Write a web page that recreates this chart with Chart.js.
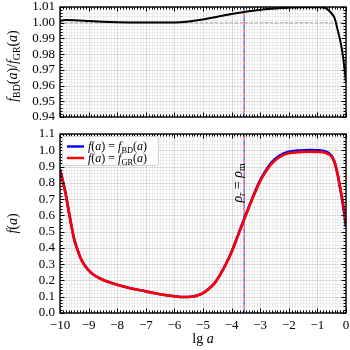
<!DOCTYPE html>
<html><head><meta charset="utf-8">
<script src="https://cdn.jsdelivr.net/npm/chart.js@4.4.0/dist/chart.umd.min.js"></script>
<style>
html,body{margin:0;padding:0;background:#fff;}
#wrap{position:relative;width:350px;height:350px;overflow:hidden;}
canvas{position:absolute;left:0;}
#c1{top:0;} #c2{top:125px;}
</style></head><body>
<div id="wrap"><canvas id="c1" width="350" height="125"></canvas><canvas id="c2" width="350" height="225"></canvas></div>
<script>
// ---- data ----
const X_LGA = [-10,-9.9,-9.8,-9.7,-9.6,-9.5,-9.4,-9.3,-9.2,-9.0,-8.8,-8.6,-8.3,-8.0,-7.5,-7.0,-6.5,-6.0,-5.7,-5.4,-5.2,-5.0,-4.8,-4.6,-4.4,-4.2,-4.0,-3.8,-3.56,-3.3,-3.0,-2.7,-2.5,-2.2,-2.0,-1.7,-1.5,-1.2,-1.0,-0.8,-0.6,-0.5,-0.4,-0.3,-0.2,-0.1,0];
const F_GR = [0.88,0.81,0.73,0.63,0.535,0.45,0.395,0.345,0.31,0.262,0.232,0.212,0.19,0.173,0.15,0.133,0.115,0.103,0.098,0.1,0.108,0.122,0.148,0.182,0.235,0.30,0.375,0.465,0.575,0.69,0.81,0.895,0.935,0.97,0.982,0.988,0.99,0.991,0.99,0.988,0.975,0.96,0.925,0.86,0.77,0.67,0.55];
const F_BD = [0.881,0.811,0.731,0.631,0.536,0.451,0.3955,0.3454,0.3103,0.2622,0.2322,0.2121,0.1901,0.1731,0.15,0.133,0.115,0.103,0.0981,0.1001,0.1082,0.1223,0.1484,0.1827,0.2359,0.3013,0.3771,0.4678,0.5789,0.6951,0.8166,0.903,0.9435,0.9792,0.9914,0.9976,0.9997,1.0008,0.9998,0.9976,0.9826,0.9656,0.9278,0.8566,0.7611,0.6553,0.5291];
const RATIO_LGA = [-10,-9.8,-9.5,-9,-8.5,-8,-7,-6,-5.5,-5,-4.5,-4,-3.56,-3,-2.5,-2,-1.5,-1,-0.8,-0.7,-0.6,-0.5,-0.4,-0.3,-0.2,-0.1,0];
const RATIO = [1.0013,1.0017,1.0016,1.0011,1.0006,1.0003,1.0001,1.0002,1.0008,1.002,1.0038,1.0055,1.0068,1.0082,1.0091,1.0096,1.0098,1.0099,1.0097,1.0092,1.0078,1.0058,1.003,0.996,0.9885,0.978,0.962];
const EQ_LGA = -3.56;          // rho_r = rho_m
const X_RANGE = [-10, 0];
const TOP_Y_RANGE = [0.94, 1.01];
const BOT_Y_RANGE = [0, 1.1];
const REF_LINE = 1.0;

const FONT = '"Liberation Serif", "DejaVu Serif", serif';
Chart.defaults.font.family = FONT;
Chart.defaults.font.size = 13;
Chart.defaults.color = '#000';

const pts = (xs, ys) => xs.map((x, i) => ({x, y: ys[i]}));

function fontFor(s, size){ const sz = s.sub ? size*0.7 : size; return (s.it ? 'italic ' : '') + sz + 'px ' + FONT; }
function richWidth(ctx, segs, size){ let w = 0; for (const s of segs){ ctx.font = fontFor(s, size); w += ctx.measureText(s.t).width; } return w; }
function drawRich(ctx, segs, x, y, size, rot, align){
  ctx.save(); ctx.translate(x, y); if (rot) ctx.rotate(rot);
  const w = richWidth(ctx, segs, size);
  let cx = align === 'left' ? 0 : -w/2;
  ctx.textAlign = 'left'; ctx.textBaseline = 'alphabetic'; ctx.fillStyle = '#000';
  for (const s of segs){ ctx.font = fontFor(s, size); ctx.fillText(s.t, cx, size*0.33 + (s.sub ? size*0.22 : 0)); cx += ctx.measureText(s.t).width; }
  ctx.restore();
}
const I = t => ({t, it:true}), R = t => ({t}), S = t => ({t, sub:true});

function framePlugin(cfg){
  return {
    id: 'frame',
    beforeDatasetsDraw(chart){
      const {ctx, chartArea:a, scales:{x, y}} = chart;
      ctx.save();
      ctx.lineWidth = 1;
      for (let i = 0; i <= 100; i++){
        const px = Math.round(x.getPixelForValue(X_RANGE[0] + i*0.1)) + 0.5;
        ctx.strokeStyle = i % 10 === 0 ? 'rgba(0,0,0,0.13)' : 'rgba(0,0,0,0.06)';
        ctx.beginPath(); ctx.moveTo(px, a.top); ctx.lineTo(px, a.bottom); ctx.stroke();
      }
      for (let j = 0; j <= cfg.ny; j++){
        const py = Math.round(y.getPixelForValue(cfg.y0 + j*cfg.dy)) + 0.5;
        ctx.strokeStyle = j % 5 === 0 ? 'rgba(0,0,0,0.13)' : 'rgba(0,0,0,0.06)';
        ctx.beginPath(); ctx.moveTo(a.left, py); ctx.lineTo(a.right, py); ctx.stroke();
      }
      ctx.restore();
    },
    afterDatasetsDraw(chart){
      const {ctx, chartArea:a, scales:{x, y}} = chart;
      ctx.save();
      ctx.strokeStyle = '#000'; ctx.lineWidth = 1;
      for (let i = 0; i <= 100; i++){
        const px = Math.round(x.getPixelForValue(X_RANGE[0] + i*0.1)) + 0.5;
        const L = i % 10 === 0 ? 4.5 : 2.5;
        ctx.beginPath(); ctx.moveTo(px, a.bottom); ctx.lineTo(px, a.bottom - L);
        ctx.moveTo(px, a.top); ctx.lineTo(px, a.top + L); ctx.stroke();
      }
      for (let j = 0; j <= cfg.ny; j++){
        const py = Math.round(y.getPixelForValue(cfg.y0 + j*cfg.dy)) + 0.5;
        const L = j % 5 === 0 ? 4.5 : 2.5;
        ctx.beginPath(); ctx.moveTo(a.left, py); ctx.lineTo(a.left + L, py);
        ctx.moveTo(a.right, py); ctx.lineTo(a.right - L, py); ctx.stroke();
      }
      ctx.lineWidth = 1.4;
      ctx.strokeRect(a.left, a.top, a.right - a.left, a.bottom - a.top);
      ctx.restore();
      if (cfg.after) cfg.after(chart);
    }
  };
}

function yScale(range, step, dec, width){
  return {
    type: 'linear', min: range[0], max: range[1],
    grid: {display: false, drawTicks: false}, border: {display: false},
    ticks: {stepSize: step, padding: 5, autoSkip: false, callback: v => Number(v).toFixed(dec), font: {size: 13, family: FONT}},
    afterFit: s => { s.width = width; s.paddingTop = 0; s.paddingBottom = 0; }
  };
}

const VBLUE = 'rgba(70,70,255,0.7)', VRED = 'rgba(255,70,70,0.7)';

// ---- top panel ----
new Chart(document.getElementById('c1'), {
  type: 'line',
  data: {datasets: [
    {data: pts(X_RANGE, [REF_LINE, REF_LINE]), borderColor: '#aaaaaa', borderWidth: 1, borderDash: [3, 2], pointRadius: 0, order: 3},
    {data: pts([EQ_LGA, EQ_LGA], TOP_Y_RANGE), borderColor: VBLUE, borderWidth: 1.6, borderDash: [4, 4], pointRadius: 0, order: 2},
    {data: pts([EQ_LGA, EQ_LGA], TOP_Y_RANGE), borderColor: VRED, borderWidth: 1.6, borderDash: [4, 4], borderDashOffset: 4, pointRadius: 0, order: 2},
    {data: pts(RATIO_LGA, RATIO), borderColor: '#000', borderWidth: 2, pointRadius: 0, cubicInterpolationMode: 'monotone', order: 0}
  ]},
  options: {
    responsive: false, devicePixelRatio: 1, animation: false,
    layout: {padding: {left: 0, right: 4, top: 7, bottom: 8}},
    plugins: {legend: {display: false}, tooltip: {enabled: false}},
    scales: {
      x: {type: 'linear', min: X_RANGE[0], max: X_RANGE[1], grid: {display: false, drawTicks: false}, border: {display: false},
          ticks: {display: false}, afterFit: s => { s.height = 0; s.paddingLeft = 0; s.paddingRight = 0; }},
      y: yScale(TOP_Y_RANGE, 0.01, 2, 60)
    }
  },
  plugins: [framePlugin({y0: TOP_Y_RANGE[0], dy: 0.002, ny: 35, after(chart){
    const a = chart.chartArea;
    drawRich(chart.ctx, [I('f'), S('BD'), R('('), I('a'), R(')/'), I('f'), S('GR'), R('('), I('a'), R(')')], 12, (a.top + a.bottom)/2 + 4, 14, -Math.PI/2);
  }})]
});

// ---- bottom panel ----
new Chart(document.getElementById('c2'), {
  type: 'line',
  data: {datasets: [
    {data: pts([EQ_LGA, EQ_LGA], BOT_Y_RANGE), borderColor: VBLUE, borderWidth: 1.6, borderDash: [4, 4], pointRadius: 0, order: 3},
    {data: pts([EQ_LGA, EQ_LGA], BOT_Y_RANGE), borderColor: VRED, borderWidth: 1.6, borderDash: [4, 4], borderDashOffset: 4, pointRadius: 0, order: 3},
    {label: 'f(a) = f_BD(a)', data: pts(X_LGA, F_BD), borderColor: '#0000ff', borderWidth: 2.6, pointRadius: 0, cubicInterpolationMode: 'monotone', order: 1},
    {label: 'f(a) = f_GR(a)', data: pts(X_LGA, F_GR), borderColor: '#ff0000', borderWidth: 2.6, pointRadius: 0, cubicInterpolationMode: 'monotone', order: 0}
  ]},
  options: {
    responsive: false, devicePixelRatio: 1, animation: false,
    layout: {padding: {left: 0, right: 4, top: 9, bottom: 0}},
    plugins: {legend: {display: false}, tooltip: {enabled: false}},
    scales: {
      x: {type: 'linear', min: X_RANGE[0], max: X_RANGE[1], grid: {display: false, drawTicks: false}, border: {display: false},
          ticks: {stepSize: 1, padding: 5, maxRotation: 0, autoSkip: false, font: {size: 13, family: FONT}, callback: v => v < 0 ? '\u2212' + Math.abs(v) : String(v)},
          afterFit: s => { s.height = 37; s.paddingLeft = 0; s.paddingRight = 0; }},
      y: yScale(BOT_Y_RANGE, 0.1, 1, 60)
    }
  },
  plugins: [framePlugin({y0: BOT_Y_RANGE[0], dy: 0.02, ny: 55, after(chart){
    const ctx = chart.ctx, a = chart.chartArea;
    // legend
    ctx.save();
    ctx.fillStyle = 'rgba(255,255,255,0.85)'; ctx.strokeStyle = '#d0d0d0'; ctx.lineWidth = 1;
    ctx.beginPath(); ctx.roundRect ? ctx.roundRect(62.5, a.top + 2.5, 96, 29, 2) : ctx.rect(62.5, a.top + 2.5, 96, 29);
    ctx.fill(); ctx.stroke();
    const ds = chart.data.datasets;
    const rows = [[ds[2].borderColor, 'BD'], [ds[3].borderColor, 'GR']];
    rows.forEach((r, k) => {
      const yy = a.top + 12.5 + k*11.5;
      ctx.strokeStyle = r[0]; ctx.lineWidth = 2.4;
      ctx.beginPath(); ctx.moveTo(67, yy); ctx.lineTo(84, yy); ctx.stroke();
      drawRich(ctx, [I('f'), R('('), I('a'), R(') = '), I('f'), S(r[1]), R('('), I('a'), R(')')], 88, yy, 12, 0, 'left');
    });
    ctx.restore();
    // rho label
    drawRich(ctx, [I('\u03c1'), S('r'), R(' = '), I('\u03c1'), S('m')], chart.scales.x.getPixelForValue(EQ_LGA) - 7, 58, 14, -Math.PI/2);
    // axis titles
    drawRich(ctx, [I('f'), R('('), I('a'), R(')')], 12, (a.top + a.bottom)/2, 14, -Math.PI/2);
    drawRich(ctx, [R('lg '), I('a')], (a.left + a.right)/2, 213, 14, 0);
  }})]
});
</script>
</body></html>
